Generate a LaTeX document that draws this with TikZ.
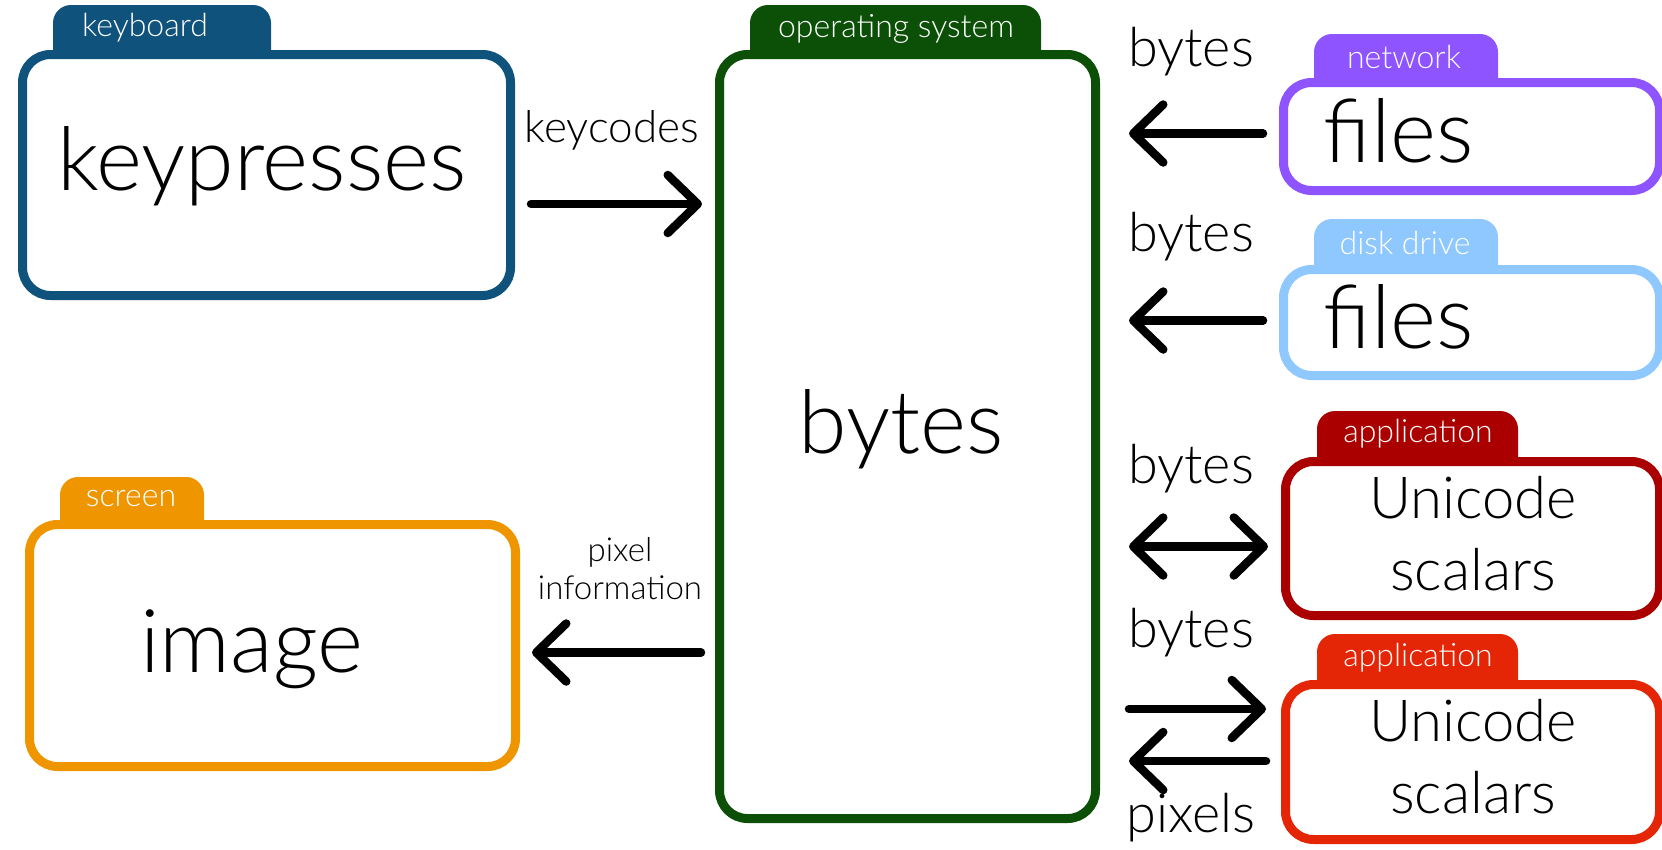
\documentclass[tikz,border=0pt]{standalone}
\usepackage{fontspec}
\setmainfont{Lato Light}
\usetikzlibrary{arrows.meta}
\definecolor{kbblue}{RGB}{15,82,124}
\definecolor{osgreen}{RGB}{12,80,8}
\definecolor{scrorange}{RGB}{238,149,0}
\definecolor{netpurple}{RGB}{141,84,255}
\definecolor{diskblue}{RGB}{143,199,255}
\definecolor{appdark}{RGB}{170,0,0}
\definecolor{appred}{RGB}{228,38,6}
\tikzset{
  folder/.style={draw=#1, fill=white, line width=9pt, rounded corners=28pt, inner sep=0pt, anchor=north west},
  tab/.style={fill=#1, rounded corners=18pt},
  tabtext/.style={text=white, font=\fontsize{32}{36}\selectfont, inner sep=0pt},
  big/.style={font=\fontsize{88}{96}\selectfont, inner sep=0pt},
  mid/.style={font=\fontsize{58}{72}\selectfont, align=center, inner sep=0pt},
  lbl/.style={font=\fontsize{54}{60}\selectfont, inner sep=0pt},
  small/.style={font=\fontsize{44}{50}\selectfont, inner sep=0pt},
  tiny/.style={font=\fontsize{33}{38}\selectfont, align=center, inner sep=0pt},
  arr/.style={line width=8.5pt, line cap=round, -{Straight Barb[length=30pt,width=58pt,round]}},
  darr/.style={line width=8.5pt, line cap=round, {Straight Barb[length=30pt,width=58pt,round]}-{Straight Barb[length=30pt,width=58pt,round]}}
}
\begin{document}
\begin{tikzpicture}[x=1pt, y=-1pt]
    \useasboundingbox (0,0) rectangle (1662,849);
    % keyboard
    \fill[tab=kbblue] (53,72) |- (271,5) -- (271,72);
    \node[tabtext] (kbtab) at (145,28) {keyboard};
    \node[folder=kbblue, minimum width=488pt, minimum height=241pt] (kb) at (18,50) {};
    \node[big] (kbtxt) at (262,166) {keypresses};
    % screen
    \fill[tab=scrorange] (60,541) |- (204,477) -- (204,541);
    \node[tabtext] (scrtab) at (131,499) {screen};
    \node[folder=scrorange, minimum width=486pt, minimum height=242pt] (scr) at (25,520) {};
    \node[big] (scrtxt) at (252,649) {image};
    % operating system
    \fill[tab=osgreen] (750,72) |- (1041,5) -- (1041,72);
    \node[tabtext] (ostab) at (896,29) {operating system};
    \node[folder=osgreen, minimum width=376pt, minimum height=764pt] (os) at (715,50) {};
    \node[big] (ostxt) at (901,429) {bytes};
    % network
    \fill[tab=netpurple] (1314,98) |- (1498,34) -- (1498,98);
    \node[tabtext] (nettab) at (1404,57) {network};
    \node[folder=netpurple, minimum width=376pt, minimum height=108pt] (net) at (1279,78) {};
    \node[big] (nettxt) at (1399,131) {files};
    % disk drive
    \fill[tab=diskblue] (1314,285) |- (1498,219) -- (1498,285);
    \node[tabtext] (disktab) at (1405,243) {disk drive};
    \node[folder=diskblue, minimum width=376pt, minimum height=106pt] (disk) at (1279,265) {};
    \node[big] (disktxt) at (1399,317) {files};
    % applications
    \fill[tab=appdark] (1317,477) |- (1518,411) -- (1518,477);
    \node[tabtext] (apptab) at (1418,434) {application};
    \node[folder=appdark, minimum width=374pt, minimum height=154pt] (app) at (1281,457) {};
    \node[mid] (apptxt) at (1473,534) {Unicode\\scalars};
    \fill[tab=appred] (1317,700) |- (1518,634) -- (1518,700);
    \node[tabtext] (apptwotab) at (1418,658) {application};
    \node[folder=appred, minimum width=374pt, minimum height=155pt] (apptwo) at (1281,680) {};
    \node[mid] (apptwotxt) at (1473,757) {Unicode\\scalars};
    % arrows
    \draw[arr, shorten <=16pt, shorten >=13pt] ([yshift=-29pt]kb.east) -- ([yshift=-29pt]kb.east -| os.west);
    \node[small] (keycodes) at (612,130) {keycodes};
    \draw[arr, shorten <=14pt, shorten >=12pt] ([yshift=-7pt]scr.east -| os.west) -- ([yshift=-7pt]scr.east);
    \node[tiny] (pixinfo) at (620,569) {pixel\\information};
    \draw[arr, shorten <=16pt, shorten >=29pt] ([yshift=3pt]net.west) -- ([yshift=3pt]net.west -| os.east);
    \node[lbl] (netbytes) at (1191,52) {bytes};
    \draw[arr, shorten <=16pt, shorten >=29pt] ([yshift=2pt]disk.west) -- ([yshift=2pt]disk.west -| os.east);
    \node[lbl] (diskbytes) at (1191,237) {bytes};
    \draw[darr, shorten <=29pt, shorten >=13pt] ([yshift=-8pt]app.west -| os.east) -- ([yshift=-8pt]app.west);
    \node[lbl] (appbytes) at (1191,469) {bytes};
    \draw[arr, shorten <=29pt, shorten >=15pt] ([yshift=53pt]apptwo.west -| os.east) -- ([yshift=53pt]apptwo.west);
    \draw[arr, shorten <=15pt, shorten >=29pt] ([yshift=1pt]apptwo.west) -- ([yshift=1pt]apptwo.west -| os.east);
    \node[lbl] (apptwobytes) at (1191,633) {bytes};
    \node[lbl] (pixels) at (1191,818) {pixels};
\end{tikzpicture}
\end{document}
